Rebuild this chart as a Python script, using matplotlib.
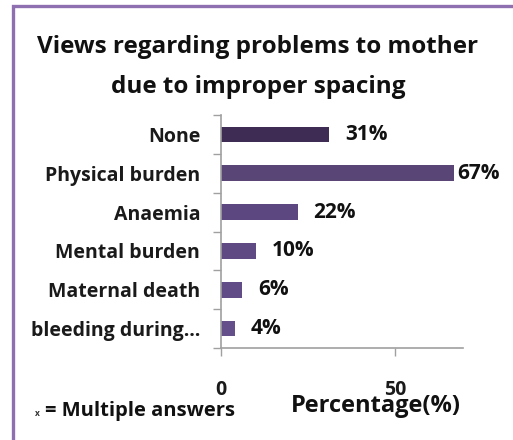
import matplotlib
matplotlib.use("Agg")
import matplotlib.pyplot as plt
from matplotlib.patches import Rectangle
import numpy as np

plt.rcParams['font.family'] = ['Open Sans', 'DejaVu Sans']

categories = ['None', 'Physical burden', 'Anaemia', 'Mental burden', 'Maternal death', 'bleeding during\u2026']
values = [31, 67, 22, 10, 6, 4]
value_labels = ['31%', '67%', '22%', '10%', '6%', '4%']
xticks = [0, 50]
bar_colors = ['#3e2c55', '#5a4577', '#5c4780', '#5f4a84', '#624c88', '#654f8b']

W, H = 513, 440
fig = plt.figure(figsize=(W / 100, H / 100), dpi=100)
fig.patch.set_facecolor('white')

# frame border (cut off at right and bottom)
fig.patches.append(Rectangle((13 / W, -0.1), 1.2, (H - 6) / H + 0.1, transform=fig.transFigure,
                             fill=False, edgecolor='#8e70b0', linewidth=2.4, zorder=0))

ax = fig.add_axes([221 / W, (H - 348) / H, (463 - 221) / W, (348 - 115) / H])
pos = np.arange(len(categories))
ax.barh(pos, values, height=0.4, color=bar_colors)
ax.set_ylim(len(categories) - 0.5, -0.5)
ax.set_xlim(0, 69.5)

for p, v, lab in zip(pos, values, value_labels):
    off = 3 if v > 60 else 16
    ax.annotate(lab, (v, p), xytext=(off * 0.72, 0), textcoords='offset points',
                ha='left', va='center', fontsize=15, fontweight='bold', color='#111111',
                annotation_clip=False)

# category ticks at boundaries, labels at centers
ax.set_yticks(np.arange(-0.5, len(categories), 1.0))
ax.set_yticklabels([])
ax.set_yticks(pos, minor=True)
ax.set_yticklabels(categories, minor=True, fontsize=14, fontweight='bold', color='#1a1a1a')
ax.tick_params(axis='y', which='minor', length=0, pad=15)
ax.tick_params(axis='y', which='major', length=5.5, width=1, color='#a0a0a0', direction='out')

ax.set_xticks(xticks)
ax.set_xticklabels([str(t) for t in xticks], fontsize=14, fontweight='bold', color='#1a1a1a')
ax.tick_params(axis='x', length=6, width=1, color='#a0a0a0', direction='out', pad=17)

for s in ['top', 'right']:
    ax.spines[s].set_visible(False)
for s in ['left', 'bottom']:
    ax.spines[s].set_color('#a0a0a0')
    ax.spines[s].set_linewidth(1.2)

fig.text(258 / W, 1 - 47 / H, 'Views regarding problems to mother', ha='center', va='center',
         fontsize=17.5, fontweight='bold', color='#111111')
fig.text(258 / W, 1 - 87 / H, 'due to improper spacing', ha='center', va='center',
         fontsize=17.5, fontweight='bold', color='#111111')

fig.text(376 / W, 1 - 406 / H, 'Percentage(%)', ha='center', va='center',
         fontsize=17, fontweight='bold', color='#111111')
fig.text(37 / W, 1 - 413 / H, 'x', ha='center', va='center', fontsize=6, fontweight='bold', color='#333333')
fig.text(45 / W, 1 - 411 / H, '= Multiple answers', ha='left', va='center',
         fontsize=14.5, fontweight='bold', color='#111111')

fig.savefig('out.png', dpi=100, facecolor='white')
